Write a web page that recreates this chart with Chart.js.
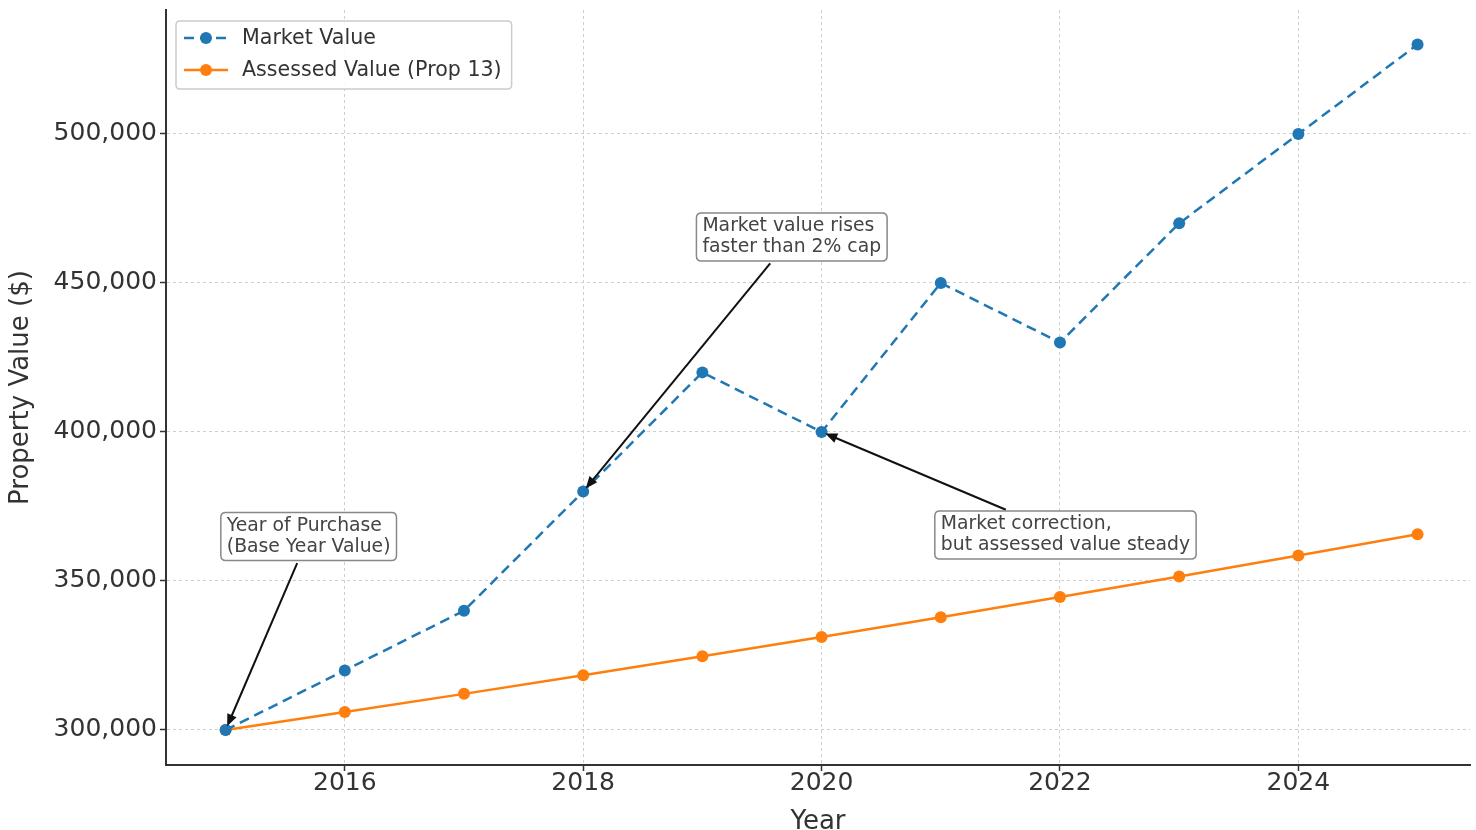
<!DOCTYPE html>
<html>
<head>
<meta charset="utf-8">
<script src="https://cdn.jsdelivr.net/npm/chart.js@4.4.0/dist/chart.umd.min.js"></script>
<style>
  html, body { margin: 0; padding: 0; background: #fff; }
</style>
</head>
<body>
<canvas id="propChart" width="1476" height="830"></canvas>
<script>
const years = [2015, 2016, 2017, 2018, 2019, 2020, 2021, 2022, 2023, 2024, 2025];
const marketValue = [300000, 320000, 340000, 380000, 420000, 400000, 450000, 430000, 470000, 500000, 530000];
const assessedValue = [300000, 306000, 312120, 318362, 324730, 331224, 337849, 344606, 351498, 358528, 365698];
const xTicks = [2016, 2018, 2020, 2022, 2024];
const yTicks = [300000, 350000, 400000, 450000, 500000];

// callouts: text lines, the point they point at, top-left of the box (data units)
const notes = [
  { text: ["Year of Purchase", "(Base Year Value)"], at: [2015, 300000], box: [2014.96, 373000] },
  { text: ["Market value rises", "faster than 2% cap"], at: [2018, 380000], box: [2018.95, 473500] },
  { text: ["Market correction,", "but assessed value steady"], at: [2020, 400000], box: [2020.95, 373500] },
];

const FONT = '"DejaVu Sans", sans-serif';
const TEXT = "#333";

const ctx = document.getElementById("propChart");

const roundRect = (c, x, y, w, h, r) => {
  c.beginPath();
  c.moveTo(x + r, y);
  c.lineTo(x + w - r, y);
  c.quadraticCurveTo(x + w, y, x + w, y + r);
  c.lineTo(x + w, y + h - r);
  c.quadraticCurveTo(x + w, y + h, x + w - r, y + h);
  c.lineTo(x + r, y + h);
  c.quadraticCurveTo(x, y + h, x, y + h - r);
  c.lineTo(x, y + r);
  c.quadraticCurveTo(x, y, x + r, y);
  c.closePath();
};

const notesPlugin = {
  id: "notes",
  afterDatasetsDraw(chart) {
    const { ctx: c, scales: { x, y } } = chart;
    c.save();
    c.font = "18.8px " + FONT;
    notes.forEach((n) => {
      const w = Math.max(...n.text.map((t) => c.measureText(t).width)) + 12;
      const h = n.text.length * 21 + 6;
      const bx = x.getPixelForValue(n.box[0]);
      const by = y.getPixelForValue(n.box[1]);
      const cx = bx + w / 2, cy = by + h / 2;
      const px = x.getPixelForValue(n.at[0]);
      const py = y.getPixelForValue(n.at[1]);
      const dx = px - cx, dy = py - cy;
      const t = Math.min(Math.abs(w / 2 / dx), Math.abs(h / 2 / dy));
      const sx = cx + dx * t, sy = cy + dy * t;
      const len = Math.hypot(px - sx, py - sy);
      const ux = (px - sx) / len, uy = (py - sy) / len;
      const ex = px - ux * 4, ey = py - uy * 4;
      const hl = 12, hw = 5;
      // arrow shaft
      c.strokeStyle = "#111";
      c.fillStyle = "#111";
      c.lineWidth = 2;
      c.beginPath();
      c.moveTo(sx + ux * 3, sy + uy * 3);
      c.lineTo(ex - ux * hl * 0.8, ey - uy * hl * 0.8);
      c.stroke();
      // arrow head
      c.beginPath();
      c.moveTo(ex, ey);
      c.lineTo(ex - ux * hl - uy * hw, ey - uy * hl + ux * hw);
      c.lineTo(ex - ux * hl + uy * hw, ey - uy * hl - ux * hw);
      c.closePath();
      c.fill();
      // box
      roundRect(c, bx, by, w, h, 5);
      c.fillStyle = "#fff";
      c.fill();
      c.strokeStyle = "#888";
      c.lineWidth = 1.5;
      c.stroke();
      c.fillStyle = "#444";
      c.textBaseline = "middle";
      c.textAlign = "left";
      n.text.forEach((t, i) => c.fillText(t, bx + 6, by + 3 + 10.5 + i * 21));
    });
    c.restore();
  },
  afterDraw(chart) {
    const { ctx: c, chartArea } = chart;
    const lx = chartArea.left + 10, ly = chartArea.top + 11;
    c.save();
    c.font = "20.6px " + FONT;
    const labels = chart.data.datasets.map((d) => d.label);
    const w = Math.max(...labels.map((l) => c.measureText(l).width)) + 76;
    roundRect(c, lx, ly, w, 68, 4);
    c.fillStyle = "rgba(255,255,255,0.85)";
    c.fill();
    c.strokeStyle = "#ccc";
    c.lineWidth = 1.5;
    c.stroke();
    chart.data.datasets.forEach((d, i) => {
      const yy = ly + 17 + i * 32;
      c.strokeStyle = d.borderColor;
      c.lineWidth = 2.5;
      c.setLineDash(d.borderDash || []);
      c.beginPath();
      c.moveTo(lx + 8, yy);
      c.lineTo(lx + 52, yy);
      c.stroke();
      c.setLineDash([]);
      c.fillStyle = d.borderColor;
      c.beginPath();
      c.arc(lx + 30, yy, 6, 0, Math.PI * 2);
      c.fill();
      c.fillStyle = TEXT;
      c.textBaseline = "middle";
      c.fillText(d.label, lx + 66, yy + 1);
    });
    c.restore();
  },
};

new Chart(ctx, {
  type: "line",
  data: {
    labels: years,
    datasets: [
      {
        label: "Market Value",
        data: years.map((yr, i) => ({ x: yr, y: marketValue[i] })),
        borderColor: "#1f77b4",
        backgroundColor: "#1f77b4",
        borderDash: [10, 6],
        borderWidth: 2.5,
        pointRadius: 6,
        pointBorderWidth: 0,
        pointBackgroundColor: "#1f77b4",
        tension: 0,
      },
      {
        label: "Assessed Value (Prop 13)",
        data: years.map((yr, i) => ({ x: yr, y: assessedValue[i] })),
        borderColor: "#ff7f0e",
        backgroundColor: "#ff7f0e",
        borderWidth: 2.5,
        pointRadius: 6,
        pointBorderWidth: 0,
        pointBackgroundColor: "#ff7f0e",
        tension: 0,
      },
    ],
  },
  options: {
    responsive: false,
    animation: false,
    layout: { padding: { top: 10, right: 6, left: 0, bottom: 0 } },
    scales: {
      x: {
        type: "linear",
        min: 2014.5,
        max: 2025.44,
        afterBuildTicks: (s) => { s.ticks = xTicks.map((v) => ({ value: v })); },
        afterFit: (s) => { s.height = 65; },
        grid: { color: "#cfcfcf", lineWidth: 1, tickLength: 6, tickColor: "#333", tickWidth: 1.5 },
        border: { display: true, color: "#333", width: 2, dash: [3, 3] },
        ticks: { color: TEXT, font: { family: FONT, size: 25 }, padding: -3, callback: (v) => String(v) },
        title: { display: true, text: "Year", color: TEXT, font: { family: FONT, size: 26 }, padding: { top: 0, bottom: -8 } },
      },
      y: {
        min: 288250,
        max: 541600,
        afterBuildTicks: (s) => { s.ticks = yTicks.map((v) => ({ value: v })); },
        afterFit: (s) => { s.width = 166; s.paddingTop = 0; s.paddingBottom = 0; },
        grid: { color: "#cfcfcf", lineWidth: 1, tickLength: 6, tickColor: "#333", tickWidth: 1.5 },
        border: { display: true, color: "#333", width: 2, dash: [3, 3] },
        ticks: { color: TEXT, font: { family: FONT, size: 25 }, padding: 3, callback: (v) => v.toLocaleString("en-US") },
        title: { display: true, text: "Property Value ($)", color: TEXT, font: { family: FONT, size: 26 }, padding: { top: 6, bottom: 0 } },
      },
    },
    plugins: {
      legend: { display: false },
      tooltip: { enabled: false },
    },
  },
  plugins: [notesPlugin],
});
</script>
</body>
</html>
